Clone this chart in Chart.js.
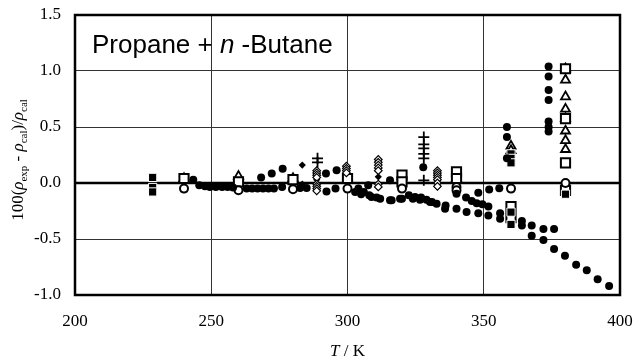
<!DOCTYPE html>
<html>
<head>
<meta charset="utf-8">
<script src="https://cdn.jsdelivr.net/npm/chart.js@4.4.1/dist/chart.umd.min.js"></script>
<style>
  html, body { margin: 0; padding: 0; background: #fff; }
</style>
</head>
<body>
<canvas id="dev-chart" width="636" height="358"></canvas>
<script>
// Filled circles (several sources)
const lowT = [243.4, 245.6, 247.7, 249.5, 251.7, 254.0, 256.0, 258.0, 263.0, 265.0, 267.0, 269.0, 271.0, 273.0, 276.0, 282.6, 285.0, 292.3, 295.6, 302.8, 305.0, 308.8, 312.0, 315.6, 320.0, 324.0, 326.6, 330.3, 332.7, 335.8, 340.0, 343.7, 348.0, 351.7, 356.0, 364.0, 367.6, 371.9, 375.8, 379.8, 383.9, 387.8, 391.8, 396.0];
const lowV = [0.03, -0.02, -0.03, -0.035, -0.035, -0.035, -0.035, -0.04, -0.05, -0.05, -0.05, -0.05, -0.05, -0.05, -0.035, -0.045, -0.045, -0.075, -0.05, -0.08, -0.1, -0.125, -0.14, -0.155, -0.14, -0.14, -0.15, -0.17, -0.185, -0.23, -0.23, -0.26, -0.27, -0.29, -0.27, -0.38, -0.47, -0.51, -0.59, -0.65, -0.73, -0.78, -0.86, -0.92];
const midT = [304.0, 306.0, 308.0, 310.7, 316.2, 319.3, 322.5, 324.8, 327.0, 329.0, 331.0, 336.0, 340.0, 343.5, 345.6, 347.4, 349.5, 351.7, 356.0, 364.0, 367.6, 371.9, 375.8];
const midV = [-0.05, -0.08, -0.11, -0.13, -0.155, -0.14, -0.11, -0.125, -0.13, -0.15, -0.17, -0.2, -0.095, -0.13, -0.16, -0.18, -0.19, -0.21, -0.32, -0.34, -0.38, -0.41, -0.41];
const highT = [268.3, 272.2, 276.2, 292.1, 296.0, 307.6, 315.6, 327.8, 348.0, 352.0, 355.7];
const highV = [0.048, 0.084, 0.128, 0.084, 0.113, -0.02, 0.024, 0.14, -0.086, -0.059, -0.047];
const colAT = [358.5, 358.5, 358.5];
const colAV = [0.5, 0.41, 0.22];
const colBT = [373.8, 373.8, 373.8, 373.8, 373.8, 373.8, 373.8];
const colBV = [1.04, 0.95, 0.83, 0.74, 0.55, 0.5, 0.46];

// Filled squares
const sqT = [228.5, 228.5, 228.5, 360, 360, 360, 360, 360, 380];
const sqV = [0.05, -0.04, -0.08, 0.26, 0.22, 0.18, -0.26, -0.37, -0.1];

// Open squares / triangles / circles
const openSqT = [240, 260, 280, 300, 320, 320, 340, 340, 360, 360, 380, 380, 380, 380];
const openSqV = [0.04, 0.01, 0.03, 0.04, 0.07, 0.01, 0.1, 0.04, -0.21, -0.31, 1.02, 0.575, 0.18, -0.065];
const triT = [240, 260, 280, 300, 340, 360, 360, 380, 380, 380, 380, 380, 380, 380, 380];
const triV = [0.04, 0.06, 0.04, 0.03, 0.04, 0.33, 0.29, 1.02, 0.92, 0.77, 0.66, 0.575, 0.465, 0.38, 0.3];
const circT = [240, 260, 280, 300, 320, 340, 340, 360, 380];
const circV = [-0.05, -0.065, -0.055, -0.05, -0.05, -0.035, -0.065, -0.05, 0.0];

// Diamonds and crosses
const diaT = [283.4, 283.4, 288.7, 311.3, 333.0];
const diaV = [0.16, -0.01, 0.03, 0.055, -0.035];
const openDiaT = [288.7, 288.7, 288.7, 288.7, 288.7, 288.7, 288.7, 288.7, 299.6, 299.6, 299.6, 299.6, 311.3, 311.3, 311.3, 311.3, 311.3, 311.3, 311.3, 333.0, 333.0, 333.0, 333.0, 333.0, 333.0, 333.0];
const openDiaV = [0.11, 0.09, 0.07, 0.05, -0.01, -0.03, -0.05, -0.07, 0.15, 0.13, 0.11, 0.09, 0.21, 0.185, 0.16, 0.135, 0.11, -0.01, -0.035, 0.11, 0.09, 0.07, 0.05, 0.03, 0.0, -0.03];
const crossT = [289, 289, 328, 328, 328, 328, 328, 328];
const crossV = [0.22, 0.185, 0.41, 0.345, 0.31, 0.26, 0.22, 0.024];

const xTicks = [200, 250, 300, 350, 400];
const yTicks = [-1.0, -0.5, 0.0, 0.5, 1.0, 1.5];

const SERIF = '"Liberation Serif", "Times New Roman", serif';
const SANS = '"Liberation Sans", Arial, sans-serif';

function pts(t, v) {
    return t.map((x, i) => ({ x: x, y: v[i] }));
}

function marker(data, style, radius, filled, width) {
    return {
        data: data,
        pointStyle: style,
        pointRadius: radius,
        pointBackgroundColor: filled ? '#000' : '#fff',
        pointBorderColor: '#000',
        pointBorderWidth: width,
        showLine: false
    };
}

const dots = [].concat(pts(lowT, lowV), pts(midT, midV), pts(highT, highV), pts(colAT, colAV), pts(colBT, colBV));

const squares = marker(pts(sqT, sqV), 'rect', 5.8, true, 1);
squares.pointBorderColor = '#fff';

// no extra room for end labels, the layout padding handles it
function noPad(s) {
    s.paddingLeft = 0;
    s.paddingRight = 0;
    s.paddingTop = 0;
    s.paddingBottom = 0;
}

// Draws zero line, frame and the text labels
const decor = {
    id: 'decor',
    beforeDatasetsDraw(chart) {
        const { ctx, chartArea: a, scales } = chart;
        const y0 = scales.y.getPixelForValue(0);
        ctx.save();
        ctx.strokeStyle = '#000';
        ctx.lineWidth = 2.5;
        ctx.beginPath();
        ctx.moveTo(a.left, y0);
        ctx.lineTo(a.right, y0);
        ctx.stroke();
        ctx.restore();
    },
    afterDatasetsDraw(chart) {
        const { ctx, chartArea: a } = chart;
        ctx.save();
        ctx.strokeStyle = '#000';
        ctx.lineWidth = 2.5;
        ctx.strokeRect(a.left, a.top, a.right - a.left, a.bottom - a.top);

        // caption inside the plot
        ctx.fillStyle = '#000';
        ctx.textBaseline = 'alphabetic';
        let x = a.left + 17;
        const yb = 53;
        const parts = [['Propane + ', 'normal'], ['n', 'italic'], [' -Butane', 'normal']];
        parts.forEach(p => {
            ctx.font = p[1] + ' 26px ' + SANS;
            ctx.fillText(p[0], x, yb);
            x += ctx.measureText(p[0]).width;
        });
        ctx.restore();
    },
    afterDraw(chart) {
        const { ctx, chartArea: a } = chart;
        ctx.save();
        ctx.fillStyle = '#000';
        ctx.textBaseline = 'alphabetic';

        // x title: T / K
        const xs = [['T', 'italic 17px '], [' / K', '17px ']];
        let w = 0;
        xs.forEach(p => { ctx.font = p[1] + SERIF; w += ctx.measureText(p[0]).width; });
        let x = (a.left + a.right) / 2 - w / 2;
        xs.forEach(p => {
            ctx.font = p[1] + SERIF;
            ctx.fillText(p[0], x, 356);
            x += ctx.measureText(p[0]).width;
        });

        // y title: 100(rho_exp - rho_cal)/rho_cal, rotated
        const ys = [
            ['100(', '17px ', 0], ['\u03C1', 'italic 17px ', 0], ['exp', '11px ', 4],
            [' - ', '17px ', 0], ['\u03C1', 'italic 17px ', 0], ['cal', '11px ', 4],
            [')/', '17px ', 0], ['\u03C1', 'italic 17px ', 0], ['cal', '11px ', 4]
        ];
        w = 0;
        ys.forEach(p => { ctx.font = p[1] + SERIF; w += ctx.measureText(p[0]).width; });
        ctx.translate(23, 160);
        ctx.rotate(-Math.PI / 2);
        x = -w / 2;
        ys.forEach(p => {
            ctx.font = p[1] + SERIF;
            ctx.fillText(p[0], x, p[2]);
            x += ctx.measureText(p[0]).width;
        });
        ctx.restore();
    }
};

new Chart(document.getElementById('dev-chart'), {
    type: 'scatter',
    data: {
        datasets: [
            marker(dots, 'circle', 4, true, 0),
            squares,
            marker(pts(openDiaT, openDiaV), 'rectRot', 3.8, false, 1.2),
            marker(pts(diaT, diaV), 'rectRot', 3.6, true, 0),
            marker(pts(crossT, crossV), 'cross', 5.5, false, 1.8),
            marker(pts(circT, circV), 'circle', 4, false, 2),
            marker(pts(openSqT, openSqV), 'rect', 6.5, false, 2),
            marker(pts(triT, triV), 'triangle', 5.2, false, 1.8)
        ]
    },
    options: {
        responsive: false,
        animation: false,
        devicePixelRatio: 1,
        events: [],
        layout: { padding: { top: 15, right: 16, left: 0, bottom: 0 } },
        plugins: {
            legend: { display: false },
            tooltip: { enabled: false }
        },
        scales: {
            x: {
                type: 'linear',
                min: 200,
                max: 400,
                afterBuildTicks: s => { s.ticks = xTicks.map(v => ({ value: v })); },
                afterFit: s => { s.height = 63; noPad(s); },
                grid: { color: '#333', lineWidth: 1, drawTicks: false },
                border: { display: false },
                ticks: {
                    padding: 16,
                    color: '#000',
                    font: { family: SERIF, size: 17 },
                    maxRotation: 0,
                    callback: v => String(v)
                }
            },
            y: {
                min: -1,
                max: 1.5,
                afterBuildTicks: s => { s.ticks = yTicks.map(v => ({ value: v })); },
                afterFit: s => { s.width = 75; noPad(s); },
                grid: { color: '#333', lineWidth: 1, drawTicks: false },
                border: { display: false },
                ticks: {
                    padding: 14,
                    color: '#000',
                    font: { family: SERIF, size: 17 },
                    callback: v => v.toFixed(1)
                }
            }
        }
    },
    plugins: [decor]
});
</script>
</body>
</html>
